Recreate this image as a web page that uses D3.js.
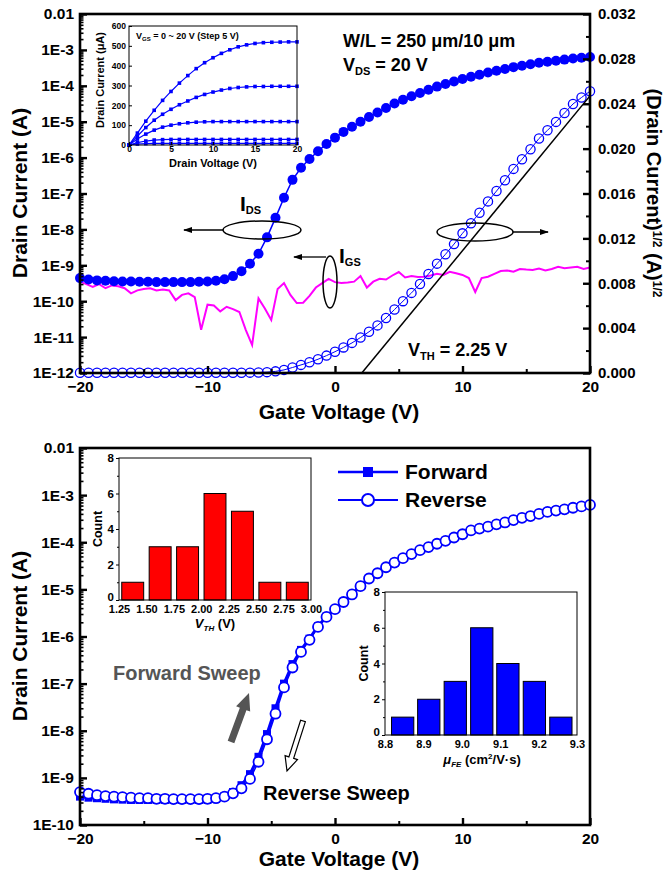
<!DOCTYPE html>
<meta charset="utf-8">
<script src="https://d3js.org/d3.v7.min.js"></script>
<style>
  body { margin: 0; background: #fff; }
  text { font-family: "Liberation Sans", Arial, sans-serif; font-weight: bold; fill: #000; }
</style>
<div id="chart"></div>
<script>
// ---------------- data ----------------
// gate sweep: -20 V .. 20 V, 61 points (2/3 V step)
var gateV = d3.range(61).map(function(i) { return -20 + i * 40 / 60; });

// top panel: transfer curve I_DS (A), V_DS = 20 V
var idsTop = [4.4e-10, 4.0e-10, 3.8e-10, 3.7e-10, 3.6e-10, 3.55e-10, 3.55e-10, 3.5e-10, 3.5e-10, 3.4e-10,
  3.4e-10, 3.4e-10, 3.4e-10, 3.4e-10, 3.5e-10, 3.55e-10, 3.7e-10, 4.1e-10, 5.0e-10, 6.8e-10,
  1.1e-9, 2.1e-9, 6.0e-9, 2.1e-8, 7.6e-8, 2.4e-7, 5.2e-7, 9.1e-7, 1.5e-6, 2.4e-6,
  3.6e-6, 5.2e-6, 7.2e-6, 1.0e-5, 1.35e-5, 1.8e-5, 2.4e-5, 3.2e-5, 4.1e-5, 5.1e-5,
  6.3e-5, 7.8e-5, 9.5e-5, 1.12e-4, 1.32e-4, 1.55e-4, 1.78e-4, 2.04e-4, 2.34e-4, 2.63e-4,
  2.95e-4, 3.31e-4, 3.63e-4, 3.98e-4, 4.37e-4, 4.68e-4, 5.01e-4, 5.37e-4, 5.75e-4, 6.03e-4, 6.31e-4];

// gate leakage I_GS (A), 0.5 V step
var gateVgs = d3.range(81).map(function(i) { return -20 + i * 0.5; });
var igs = [3.5e-10, 3.0e-10, 2.5e-10, 3.0e-10, 2.3e-10, 2.75e-10, 2.6e-10, 2.3e-10, 1.65e-10, 2.0e-10,
  2.2e-10, 2.3e-10, 2.0e-10, 2.1e-10, 2.0e-10, 1.07e-10, 1.5e-10, 1.65e-10, 1.3e-10, 1.6e-11,
  8.0e-11, 7.6e-11, 5.2e-11, 7.0e-11, 6.0e-11, 5.0e-11, 1.6e-11, 6.0e-12, 1.2e-10, 6.3e-11,
  3.0e-11, 2.2e-10, 3.2e-10, 1.5e-10, 8.9e-11, 9.1e-11, 1.4e-10, 2.4e-10, 3.2e-10, 4.2e-10,
  3.4e-10, 3.2e-10, 3.3e-10, 3.5e-10, 5.0e-10, 2.4e-10, 3.5e-10, 4.2e-10, 4.0e-10, 5.2e-10,
  6.5e-10, 4.6e-10, 5.0e-10, 4.7e-10, 4.8e-10, 5.2e-10, 5.8e-10, 5.4e-10, 6.6e-10, 6.0e-10,
  5.4e-10, 4.4e-10, 1.8e-10, 4.4e-10, 4.8e-10, 5.8e-10, 6.9e-10, 7.2e-10, 6.6e-10, 7.9e-10,
  7.6e-10, 7.4e-10, 8.1e-10, 7.2e-10, 7.9e-10, 9.1e-10, 8.3e-10, 8.7e-10, 9.1e-10, 7.9e-10, 8.7e-10];

// linear fit of sqrt(I_DS): [V_G, sqrt(A)]
var fitLine = [[2.1, 0], [20, 0.0247]];

// output curves (inset), drain current in uA, V_D = 0..20 V step 1
var drainV = d3.range(21);
var out20 = [0, 60, 120, 175, 225, 270, 312, 350, 385, 415, 440, 462, 480, 495, 505, 512, 516, 518, 519, 520, 520];
var out15 = [0, 45, 88, 125, 155, 180, 203, 222, 240, 255, 267, 277, 285, 290, 293, 295, 295, 296, 296, 296, 296];
var out10 = [0, 30, 55, 75, 90, 100, 107, 112, 115, 117, 118, 118, 118, 118, 118, 118, 118, 118, 118, 118, 118];
var out5  = [0, 12, 20, 25, 27, 28, 28, 28, 28, 28, 28, 28, 28, 28, 28, 28, 28, 28, 28, 28, 28];
var out0  = [0, 5, 7, 8, 8, 8, 8, 8, 8, 8, 8, 8, 8, 8, 8, 8, 8, 8, 8, 8, 8];

// bottom panel: forward / reverse sweep (A)
var idsForward = [4.0e-10, 3.8e-10, 3.7e-10, 3.6e-10, 3.5e-10, 3.45e-10, 3.4e-10, 3.4e-10, 3.4e-10, 3.4e-10,
  3.4e-10, 3.4e-10, 3.4e-10, 3.4e-10, 3.4e-10, 3.4e-10, 3.6e-10, 4.1e-10, 5.0e-10, 7.0e-10,
  1.2e-9, 2.8e-9, 8.5e-9, 3.0e-8, 1.0e-7, 2.6e-7, 5.2e-7, 9.0e-7, 1.65e-6, 2.65e-6,
  3.8e-6, 5.4e-6, 7.8e-6, 1.17e-5, 1.7e-5, 2.2e-5, 2.95e-5, 3.7e-5, 4.6e-5, 5.6e-5,
  6.8e-5, 7.9e-5, 9.3e-5, 1.07e-4, 1.26e-4, 1.48e-4, 1.78e-4, 1.95e-4, 2.14e-4, 2.4e-4,
  2.63e-4, 2.95e-4, 3.3e-4, 3.6e-4, 4.0e-4, 4.4e-4, 4.7e-4, 5.0e-4, 5.4e-4, 5.75e-4, 6.2e-4];
var idsReverse = [5.0e-10, 4.6e-10, 4.3e-10, 4.1e-10, 4.0e-10, 3.9e-10, 3.8e-10, 3.7e-10, 3.7e-10, 3.6e-10,
  3.6e-10, 3.55e-10, 3.55e-10, 3.55e-10, 3.55e-10, 3.6e-10, 3.7e-10, 4.0e-10, 4.7e-10, 6.0e-10,
  9.5e-10, 2.2e-9, 6.6e-9, 2.3e-8, 8.3e-8, 2.2e-7, 4.7e-7, 8.5e-7, 1.6e-6, 2.6e-6,
  3.8e-6, 5.4e-6, 7.8e-6, 1.17e-5, 1.7e-5, 2.2e-5, 2.95e-5, 3.7e-5, 4.6e-5, 5.6e-5,
  6.8e-5, 7.9e-5, 9.3e-5, 1.07e-4, 1.26e-4, 1.48e-4, 1.78e-4, 1.95e-4, 2.14e-4, 2.4e-4,
  2.63e-4, 2.95e-4, 3.3e-4, 3.6e-4, 4.0e-4, 4.4e-4, 4.7e-4, 5.0e-4, 5.4e-4, 5.75e-4, 6.2e-4];

// histograms
var vthBins = [1.375, 1.625, 1.875, 2.125, 2.375, 2.625, 2.875];
var vthCounts = [1, 3, 3, 6, 5, 1, 1];
var vthTicks = [1.25, 1.5, 1.75, 2.0, 2.25, 2.5, 2.75, 3.0];
var muBins = [8.846, 8.914, 8.983, 9.052, 9.120, 9.189, 9.258];
var muCounts = [1, 2, 3, 6, 4, 3, 1];
var muTicks = [8.8, 8.9, 9.0, 9.1, 9.2, 9.3];

// ---------------- drawing ----------------
var blue = "#0000ff", magenta = "#ff00ff";
var svg = d3.select("#chart").append("svg").attr("width", 670).attr("height", 877);

svg.append("defs").append("marker")
    .attr("id", "arr").attr("viewBox", "0 0 10 10").attr("refX", 9).attr("refY", 5)
    .attr("markerWidth", 7).attr("markerHeight", 7).attr("orient", "auto-start-reverse")
  .append("path").attr("d", "M0,1.5L10,5L0,8.5Z").attr("fill", "#000");

function logFmt(d) {
  var e = Math.round(Math.log10(d));
  return e === -2 ? "0.01" : "1E" + e;
}
function logMinor(lo, hi) {
  var m = [];
  for (var e = lo; e < hi; e++) for (var k = 2; k < 10; k++) m.push(k * Math.pow(10, e));
  return m;
}
function logMajor(lo, hi) {
  return d3.range(lo, hi + 1).map(function(e) { return Math.pow(10, e); });
}

// draw an axis; ticks pointing inward when size is negative
function axis(g, fn, scale, tr, vals, size, fmt, fs, pad, sw) {
  var a = g.append("g").attr("transform", tr)
    .call(fn(scale).tickValues(vals).tickSizeInner(size).tickSizeOuter(0)
      .tickPadding(pad || 5).tickFormat(fmt || ""));
  a.select(".domain").remove();
  a.selectAll("line").attr("stroke", "#000").attr("stroke-width", sw || 2);
  a.selectAll("text").style("font-size", (fs || 15) + "px").style("font-family", null).attr("fill", "#000");
  return a;
}

function frame(g, x0, y0, x1, y1, sw) {
  g.append("rect").attr("x", x0).attr("y", y0).attr("width", x1 - x0).attr("height", y1 - y0)
    .attr("fill", "none").attr("stroke", "#000").attr("stroke-width", sw);
}

// ===== top panel =====
var P1 = {l: 80, r: 590, t: 14, b: 373};
var x1 = d3.scaleLinear().domain([-20, 20]).range([P1.l, P1.r]);
var y1 = d3.scaleLog().domain([1e-12, 1e-2]).range([P1.b, P1.t]);
var y1r = d3.scaleLinear().domain([0, 0.032]).range([P1.b, P1.t]);
var g1 = svg.append("g");

// I_GS
g1.append("path").datum(d3.zip(gateVgs, igs))
  .attr("fill", "none").attr("stroke", magenta).attr("stroke-width", 2)
  .attr("d", d3.line().x(function(d) { return x1(d[0]); }).y(function(d) { return y1(d[1]); }));

// sqrt(I_DS) on right axis
var sq = gateV.map(function(v, i) { return [v, Math.sqrt(idsTop[i])]; });
g1.append("path").datum(sq).attr("fill", "none").attr("stroke", blue).attr("stroke-width", 1)
  .attr("d", d3.line().x(function(d) { return x1(d[0]); }).y(function(d) { return y1r(d[1]); }));
g1.selectAll(".sq").data(sq).enter().append("circle")
  .attr("cx", function(d) { return x1(d[0]); }).attr("cy", function(d) { return y1r(d[1]); })
  .attr("r", 4.6).attr("fill", "none").attr("stroke", blue).attr("stroke-width", 1.3);

// fit line
g1.append("line")
  .attr("x1", x1(fitLine[0][0])).attr("y1", y1r(fitLine[0][1]))
  .attr("x2", x1(fitLine[1][0])).attr("y2", y1r(fitLine[1][1]))
  .attr("stroke", "#000").attr("stroke-width", 1.5);

// I_DS log
var ids = gateV.map(function(v, i) { return [v, idsTop[i]]; });
g1.append("path").datum(ids).attr("fill", "none").attr("stroke", blue).attr("stroke-width", 1.5)
  .attr("d", d3.line().x(function(d) { return x1(d[0]); }).y(function(d) { return y1(d[1]); }));
g1.selectAll(".ids").data(ids).enter().append("circle")
  .attr("cx", function(d) { return x1(d[0]); }).attr("cy", function(d) { return y1(d[1]); })
  .attr("r", 5).attr("fill", blue);

frame(g1, P1.l, P1.t, P1.r, P1.b, 2.6);
axis(g1, d3.axisLeft, y1, "translate(" + P1.l + ",0)", logMajor(-12, -2), -7, logFmt, 15.5, 6, 2.4);
axis(g1, d3.axisLeft, y1, "translate(" + P1.l + ",0)", logMinor(-12, -2), -3.5, null, 15, 5, 1.6);
axis(g1, d3.axisBottom, x1, "translate(0," + P1.b + ")", [-20, -10, 0, 10, 20], -7, d3.format("d"), 15.5, 8, 2.4);
axis(g1, d3.axisBottom, x1, "translate(0," + P1.b + ")", [-15, -5, 5, 15], -4, null, 15, 5, 2);
axis(g1, d3.axisRight, y1r, "translate(" + P1.r + ",0)", d3.range(0, 0.0321, 0.004), -7, d3.format(".3f"), 15, 8, 2.4);
axis(g1, d3.axisRight, y1r, "translate(" + P1.r + ",0)", d3.range(0.002, 0.032, 0.004), -4, null, 15, 5, 2);

g1.append("text").attr("transform", "translate(27,193) rotate(-90)").attr("text-anchor", "middle")
  .style("font-size", "21px").text("Drain Current (A)");
g1.append("text").attr("x", 339).attr("y", 419).attr("text-anchor", "middle")
  .style("font-size", "21px").text("Gate Voltage (V)");
var rt = g1.append("text").attr("transform", "translate(647,193) rotate(90)").attr("text-anchor", "middle")
  .style("font-size", "20px");
rt.append("tspan").text("(Drain Current)");
rt.append("tspan").attr("dy", -6).style("font-size", "12px").text("1/2");
rt.append("tspan").attr("dy", 6).text(" (A)");
rt.append("tspan").attr("dy", -6).style("font-size", "12px").text("1/2");

// annotations
g1.append("text").attr("x", 343).attr("y", 47).style("font-size", "18px").text("W/L = 250 μm/10 μm");
var t2 = g1.append("text").attr("x", 343).attr("y", 71).style("font-size", "18px");
t2.append("tspan").text("V");
t2.append("tspan").attr("dy", 4).style("font-size", "11px").text("DS");
t2.append("tspan").attr("dy", -4).text(" = 20 V");

var t3 = g1.append("text").attr("x", 240).attr("y", 211).style("font-size", "21px");
t3.append("tspan").text("I");
t3.append("tspan").attr("dy", 3).style("font-size", "11px").text("DS");
var t4 = g1.append("text").attr("x", 339).attr("y", 263).style("font-size", "21px");
t4.append("tspan").text("I");
t4.append("tspan").attr("dy", 3).style("font-size", "11px").text("GS");
var t5 = g1.append("text").attr("x", 408).attr("y", 356).style("font-size", "18px");
t5.append("tspan").text("V");
t5.append("tspan").attr("dy", 4).style("font-size", "11px").text("TH");
t5.append("tspan").attr("dy", -4).text(" = 2.25 V");

g1.append("ellipse").attr("cx", 262).attr("cy", 230).attr("rx", 39).attr("ry", 9)
  .attr("fill", "none").attr("stroke", "#000").attr("stroke-width", 1.5);
g1.append("line").attr("x1", 223).attr("y1", 230).attr("x2", 184).attr("y2", 230)
  .attr("stroke", "#000").attr("stroke-width", 1.3).attr("marker-end", "url(#arr)");
g1.append("ellipse").attr("cx", 330).attr("cy", 282).attr("rx", 7).attr("ry", 26)
  .attr("fill", "none").attr("stroke", "#000").attr("stroke-width", 1.5);
g1.append("line").attr("x1", 326).attr("y1", 257).attr("x2", 294).attr("y2", 257)
  .attr("stroke", "#000").attr("stroke-width", 1.3).attr("marker-end", "url(#arr)");
g1.append("ellipse").attr("cx", 475).attr("cy", 232).attr("rx", 38).attr("ry", 9)
  .attr("fill", "none").attr("stroke", "#000").attr("stroke-width", 1.5);
g1.append("line").attr("x1", 513).attr("y1", 232).attr("x2", 548).attr("y2", 232)
  .attr("stroke", "#000").attr("stroke-width", 1.3).attr("marker-end", "url(#arr)");

// ---- inset: output characteristics
var xi = d3.scaleLinear().domain([0, 20]).range([129, 297]);
var yi = d3.scaleLinear().domain([0, 600]).range([145, 26]);
var gi = svg.append("g");
gi.append("rect").attr("x", 129).attr("y", 26).attr("width", 168).attr("height", 119).attr("fill", "#fff");
[out0, out5, out10, out15, out20].forEach(function(arr) {
  var pts = drainV.map(function(v, i) { return [v, arr[i]]; });
  gi.append("path").datum(pts).attr("fill", "none").attr("stroke", blue).attr("stroke-width", 1.2)
    .attr("d", d3.line().x(function(d) { return xi(d[0]); }).y(function(d) { return yi(d[1]); }));
  gi.selectAll(null).data(pts).enter().append("rect")
    .attr("x", function(d) { return xi(d[0]) - 1.8; }).attr("y", function(d) { return yi(d[1]) - 1.8; })
    .attr("width", 3.6).attr("height", 3.6).attr("fill", blue);
});
frame(gi, 129, 26, 297, 145, 1);
axis(gi, d3.axisLeft, yi, "translate(129,0)", d3.range(0, 601, 100), -3, d3.format("d"), 8.5, 3, 1);
axis(gi, d3.axisBottom, xi, "translate(0,145)", [0, 5, 10, 15, 20], -3, d3.format("d"), 8.5, 1, 1);
gi.append("text").attr("transform", "translate(104,80) rotate(-90)").attr("text-anchor", "middle")
  .style("font-size", "11px").text("Drain Current (μA)");
gi.append("text").attr("x", 213).attr("y", 167).attr("text-anchor", "middle")
  .style("font-size", "11px").text("Drain Voltage (V)");
var ti = gi.append("text").attr("x", 136).attr("y", 39).style("font-size", "9px");
ti.append("tspan").text("V");
ti.append("tspan").attr("dy", 2).style("font-size", "6px").text("GS");
ti.append("tspan").attr("dy", -2).text(" = 0 ~ 20 V (Step 5 V)");

// ===== bottom panel =====
var P2 = {l: 80, r: 590, t: 448, b: 825};
var x2 = d3.scaleLinear().domain([-20, 20]).range([P2.l, P2.r]);
var y2 = d3.scaleLog().domain([1e-10, 1e-2]).range([P2.b, P2.t]);
var g2 = svg.append("g");

var fwd = gateV.map(function(v, i) { return [v, idsForward[i]]; });
var rev = gateV.map(function(v, i) { return [v, idsReverse[i]]; });
var line2 = d3.line().x(function(d) { return x2(d[0]); }).y(function(d) { return y2(d[1]); });
g2.append("path").datum(fwd).attr("fill", "none").attr("stroke", blue).attr("stroke-width", 3).attr("d", line2);
g2.selectAll(".fw").data(fwd).enter().append("rect")
  .attr("x", function(d) { return x2(d[0]) - 4; }).attr("y", function(d) { return y2(d[1]) - 4; })
  .attr("width", 8).attr("height", 8).attr("fill", blue);
g2.append("path").datum(rev).attr("fill", "none").attr("stroke", blue).attr("stroke-width", 1.5).attr("d", line2);
g2.selectAll(".rv").data(rev).enter().append("circle")
  .attr("cx", function(d) { return x2(d[0]); }).attr("cy", function(d) { return y2(d[1]); })
  .attr("r", 5).attr("fill", "#fff").attr("stroke", blue).attr("stroke-width", 1.8);

frame(g2, P2.l, P2.t, P2.r, P2.b, 2.6);
axis(g2, d3.axisLeft, y2, "translate(" + P2.l + ",0)", logMajor(-10, -2), -7, logFmt, 15.5, 6, 2.4);
axis(g2, d3.axisLeft, y2, "translate(" + P2.l + ",0)", logMinor(-10, -2), -3.5, null, 15, 5, 1.6);
axis(g2, d3.axisBottom, x2, "translate(0," + P2.b + ")", [-20, -10, 0, 10, 20], -7, d3.format("d"), 15.5, 8, 2.4);
axis(g2, d3.axisBottom, x2, "translate(0," + P2.b + ")", [-15, -5, 5, 15], -4, null, 15, 5, 2);
g2.append("text").attr("transform", "translate(27,636) rotate(-90)").attr("text-anchor", "middle")
  .style("font-size", "21px").text("Drain Current (A)");
g2.append("text").attr("x", 339).attr("y", 866).attr("text-anchor", "middle")
  .style("font-size", "21px").text("Gate Voltage (V)");

// legend
g2.append("line").attr("x1", 338).attr("x2", 398).attr("y1", 472).attr("y2", 472).attr("stroke", blue).attr("stroke-width", 2.5);
g2.append("rect").attr("x", 363).attr("y", 467).attr("width", 10).attr("height", 10).attr("fill", blue);
g2.append("text").attr("x", 405).attr("y", 479).style("font-size", "21px").text("Forward");
g2.append("line").attr("x1", 338).attr("x2", 398).attr("y1", 500).attr("y2", 500).attr("stroke", blue).attr("stroke-width", 2);
g2.append("circle").attr("cx", 368).attr("cy", 500).attr("r", 6).attr("fill", "#fff").attr("stroke", blue).attr("stroke-width", 2);
g2.append("text").attr("x", 405).attr("y", 507).style("font-size", "21px").text("Reverse");

// sweep arrows
function blockArrow(x0, y0, xe, ye, shaft, headW, headL) {
  var dx = xe - x0, dy = ye - y0, L = Math.hypot(dx, dy), ux = dx / L, uy = dy / L, px = -uy, py = ux;
  var bx = xe - ux * headL, by = ye - uy * headL;
  return [[x0 + px * shaft / 2, y0 + py * shaft / 2], [bx + px * shaft / 2, by + py * shaft / 2],
    [bx + px * headW / 2, by + py * headW / 2], [xe, ye], [bx - px * headW / 2, by - py * headW / 2],
    [bx - px * shaft / 2, by - py * shaft / 2], [x0 - px * shaft / 2, y0 - py * shaft / 2]];
}
g2.append("polygon").attr("points", blockArrow(231, 742, 249, 693, 7, 15, 17).join(" ")).attr("fill", "#555");
g2.append("polygon").attr("points", blockArrow(303, 721, 287, 771, 5, 13, 14).join(" "))
  .attr("fill", "#fff").attr("stroke", "#000").attr("stroke-width", 1.2);
g2.append("text").attr("x", 113).attr("y", 680).style("font-size", "20px").style("fill", "#555").text("Forward Sweep");
g2.append("text").attr("x", 263).attr("y", 800).style("font-size", "20px").text("Reverse Sweep");

// ---- histogram insets
function histogram(xd, counts, ticks, box, color, bw) {
  var g = svg.append("g");
  var x = d3.scaleLinear().domain([ticks[0], ticks[ticks.length - 1]]).range([box.l, box.r]);
  var y = d3.scaleLinear().domain([0, 8]).range([box.b, box.t]);
  g.append("rect").attr("x", box.l).attr("y", box.t).attr("width", box.r - box.l).attr("height", box.b - box.t).attr("fill", "#fff");
  g.selectAll(null).data(counts).enter().append("rect")
    .attr("x", function(d, i) { return x(xd[i] - bw / 2); })
    .attr("width", function() { return x(bw) - x(0); })
    .attr("y", function(d) { return y(d); })
    .attr("height", function(d) { return y(0) - y(d); })
    .attr("fill", color).attr("stroke", "#000").attr("stroke-width", 1);
  frame(g, box.l, box.t, box.r, box.b, 1);
  var ya = axis(g, d3.axisLeft, y, "translate(" + box.l + ",0)", [0, 2, 4, 6, 8], 3, d3.format("d"), 11.5, 2, 1);
  ya.selectAll("text").filter(function(d) { return d === 0; }).attr("dy", "0em");
  axis(g, d3.axisLeft, y, "translate(" + box.l + ",0)", [1, 3, 5, 7], 2, null, 11, 2, 1);
  axis(g, d3.axisBottom, x, "translate(0," + box.b + ")", ticks, 0, box.fmt, 11, 5, 1);
  g.append("text").attr("transform", "translate(" + (box.l - 17) + "," + ((box.t + box.b) / 2) + ") rotate(-90)")
    .attr("text-anchor", "middle").style("font-size", "12.5px").text("Count");
  return g;
}
var gv = histogram(vthBins, vthCounts, vthTicks, {l: 119, r: 311, t: 458, b: 600, fmt: d3.format(".2f")}, "#ff0000", 0.2);
var tv = gv.append("text").attr("x", 215).attr("y", 628).attr("text-anchor", "middle").style("font-size", "13px");
tv.append("tspan").style("font-style", "italic").text("V");
tv.append("tspan").attr("dy", 3).style("font-size", "8px").style("font-style", "italic").text("TH");
tv.append("tspan").attr("dy", -3).text(" (V)");

var gm = histogram(muBins, muCounts, muTicks, {l: 385, r: 577, t: 592, b: 735, fmt: d3.format(".1f")}, "#0000ff", 0.058);
var tm = gm.append("text").attr("x", 482).attr("y", 764).attr("text-anchor", "middle").style("font-size", "13px");
tm.append("tspan").style("font-style", "italic").text("μ");
tm.append("tspan").attr("dy", 3).style("font-size", "8px").style("font-style", "italic").text("FE");
tm.append("tspan").attr("dy", -3).text(" (cm");
tm.append("tspan").attr("dy", -5).style("font-size", "8px").text("2");
tm.append("tspan").attr("dy", 5).text("/V·s)");
</script>
